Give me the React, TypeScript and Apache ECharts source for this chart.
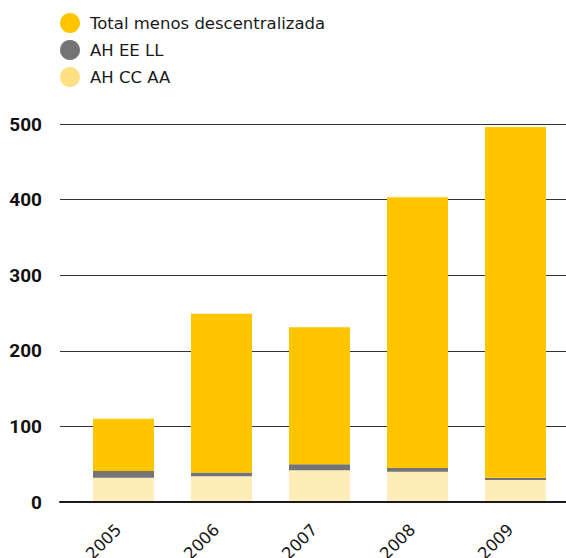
import React, { useEffect, useRef } from "react";
import * as echarts from "echarts";

const categories = ["2005", "2006", "2007", "2008", "2009"];
const ahCCAA = [32, 34, 42, 40, 29];
const ahEELL = [9, 5, 8, 5, 3];
const totalMenos = [69, 210, 181, 358, 464];
const yTicks = [0, 100, 200, 300, 400, 500];

export default function App() {
  const ref = useRef<HTMLDivElement>(null);
  useEffect(() => {
    if (!ref.current) return;
    const chart = echarts.init(ref.current, null, { renderer: "svg" });
    const font = "DejaVu Sans";
    chart.setOption({
      animation: false,
      legend: {
        orient: "vertical",
        left: 60,
        top: 13,
        padding: 0,
        itemWidth: 20,
        itemHeight: 20,
        itemGap: 7,
        icon: "circle",
        textStyle: { fontFamily: font, fontSize: 16.5, color: "#1a1a1a", padding: [0, 0, 0, 5] },
        data: [
          { name: "Total menos descentralizada", itemStyle: { color: "#FFC600" } },
          { name: "AH EE LL", itemStyle: { color: "#747474" } },
          { name: "AH CC AA", itemStyle: { color: "#FFE082" } },
        ],
      },
      grid: [
        { left: 60, right: 0, top: 124, bottom: 56, containLabel: false, outerBoundsMode: "none" },
        { left: 74.5, right: 1.5, top: 124, bottom: 56, containLabel: false, outerBoundsMode: "none" },
      ],
      xAxis: [
        {
          type: "value",
          gridIndex: 0,
          min: 0,
          max: 1,
          axisLine: { show: true, lineStyle: { color: "#1a1a1a", width: 2 } },
          axisTick: { show: false },
          axisLabel: { show: false },
          splitLine: { show: false },
          z: 5,
        },
        {
          type: "category",
          gridIndex: 1,
          data: categories,
          axisLine: { show: false },
          axisTick: { show: false },
          axisLabel: {
            rotate: 45,
            margin: 20,
            fontFamily: font,
            fontSize: 16.5,
            color: "#1a1a1a",
            padding: [0, 7, 0, 0],
          },
        },
      ],
      yAxis: [
        {
          type: "value",
          gridIndex: 0,
          min: 0,
          max: 500,
          interval: 100,
          axisLine: { show: false },
          axisTick: { show: false },
          splitLine: { show: true, lineStyle: { color: "#333", width: 1 } },
          axisLabel: {
            margin: 18,
            fontFamily: "Roboto",
            fontWeight: "bold",
            fontSize: 19,
            color: "#111",
            padding: [0, 0, 8, 0],
            formatter: (v: number) => (yTicks.includes(v) ? String(v) : ""),
          },
        },
        {
          type: "value",
          gridIndex: 1,
          min: 0,
          max: 500,
          interval: 100,
          show: false,
          splitLine: { show: false },
        },
      ],
      series: [
        {
          name: "AH CC AA",
          type: "bar",
          stack: "t",
          xAxisIndex: 1,
          yAxisIndex: 1,
          barWidth: 61,
          data: ahCCAA,
          itemStyle: { color: "#FEEDB9" },
        },
        {
          name: "AH EE LL",
          type: "bar",
          stack: "t",
          xAxisIndex: 1,
          yAxisIndex: 1,
          barWidth: 61,
          data: ahEELL,
          itemStyle: { color: "#747474" },
        },
        {
          name: "Total menos descentralizada",
          type: "bar",
          stack: "t",
          xAxisIndex: 1,
          yAxisIndex: 1,
          barWidth: 61,
          data: totalMenos,
          itemStyle: { color: "#FFC600" },
        },
      ],
    });
    return () => chart.dispose();
  }, []);
  return (
    <div
      ref={ref}
      style={{ position: "absolute", left: 0, top: 0, width: 566, height: 558 }}
    />
  );
}
